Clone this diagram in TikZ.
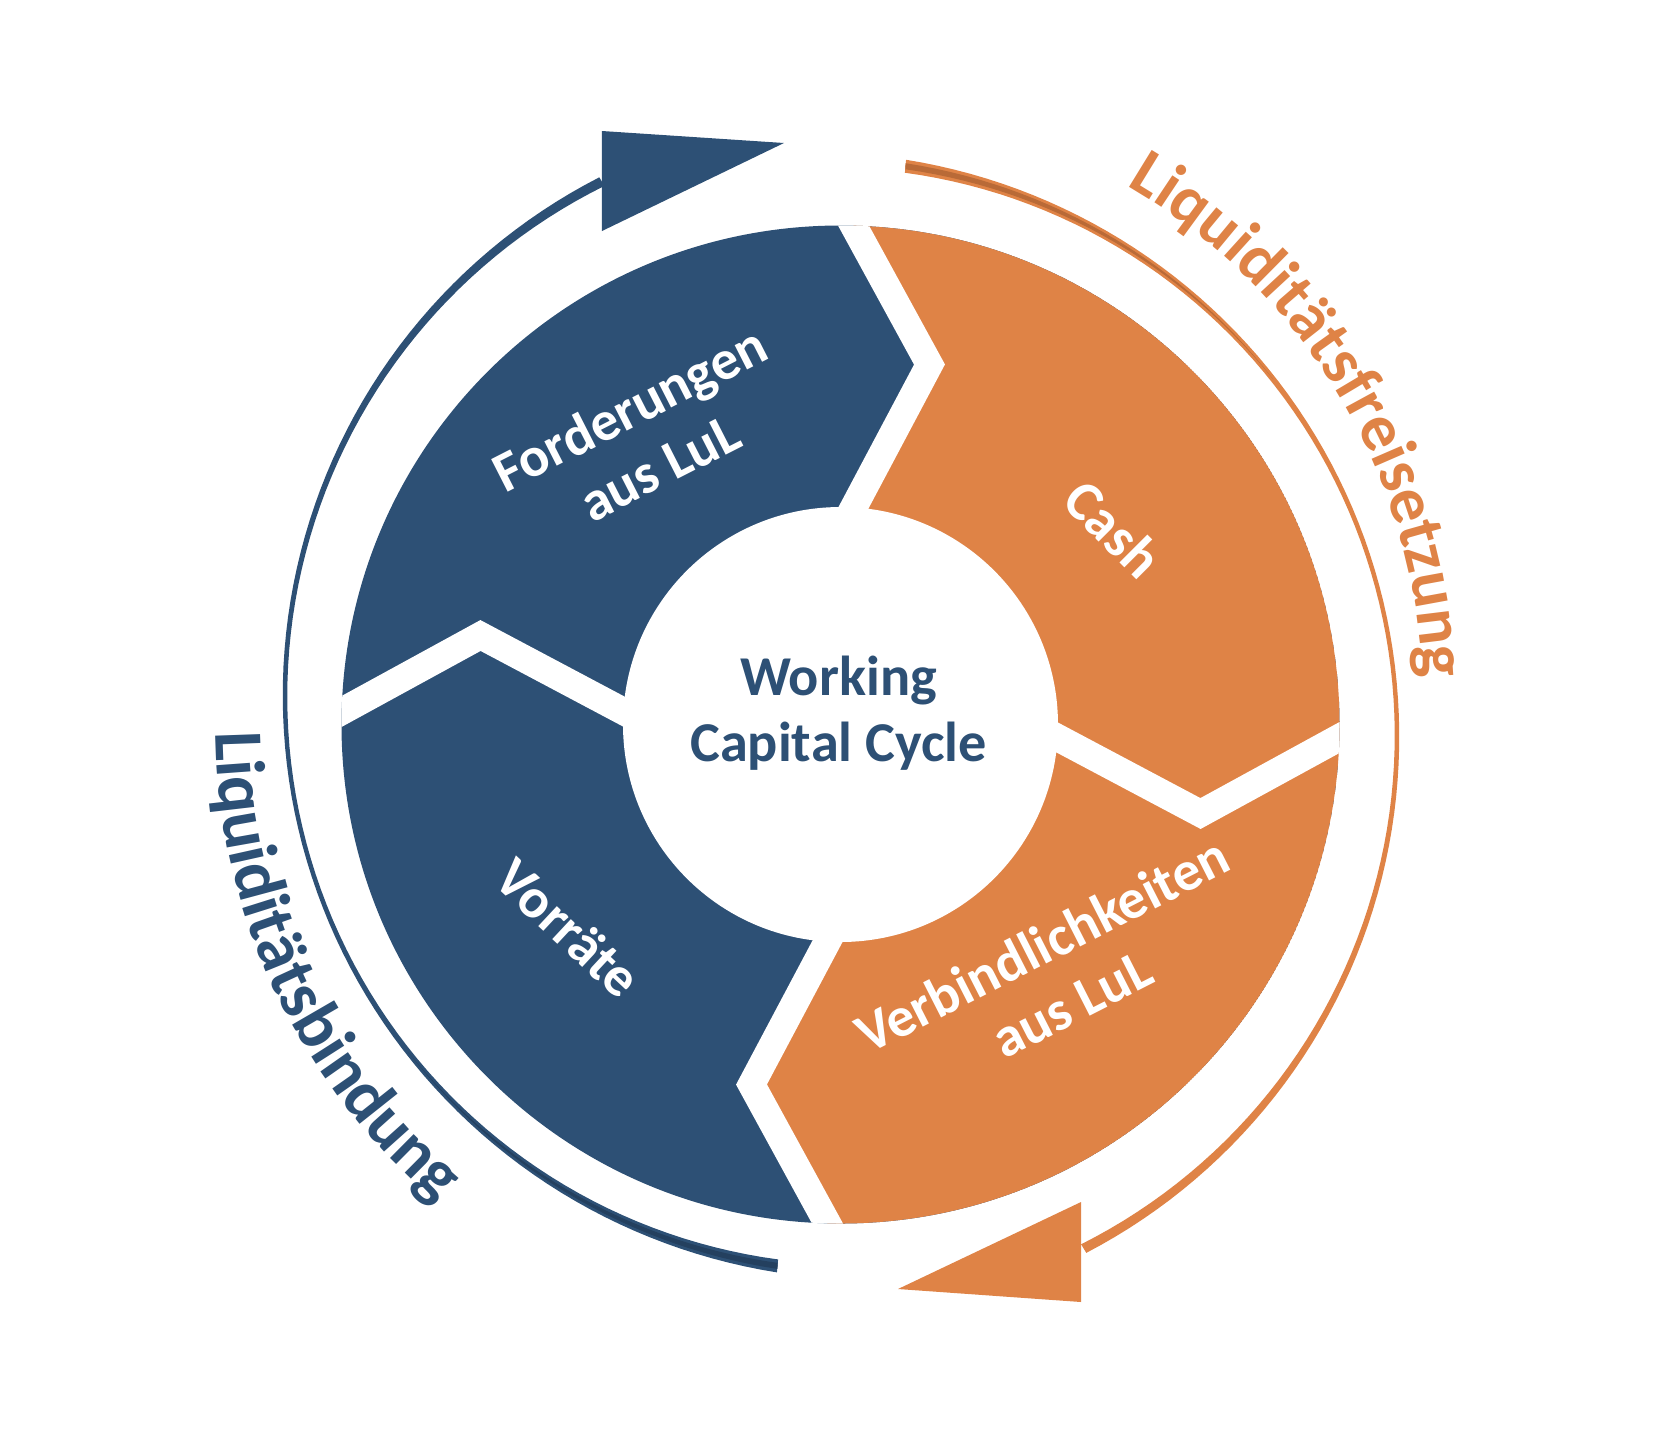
\documentclass[tikz,border=0pt]{standalone}
\usepackage{fontspec}
\setmainfont{Carlito}
\usepackage{tikz}
\usetikzlibrary{decorations.text}

\definecolor{cblue}{HTML}{2D5075}
\definecolor{cbluedark}{HTML}{24405F}
\definecolor{corange}{HTML}{DF8346}
\definecolor{corangedark}{HTML}{B96A37}

\newcommand{\labelfont}{\bfseries\fontsize{16}{18.8}\selectfont}
\newcommand{\curvefont}{\fontsize{19}{22}\selectfont\bfseries}
\newcommand{\curvefontb}{\fontsize{19.7}{22}\selectfont\bfseries}

\tikzset{
    gapband/.style={draw=white, line width=2.72mm, line join=miter},
    seglabel/.style={text=white, font=\labelfont, align=center},
    declare function={rw(\s)=2.2+(4.3-1.5*\s)*(1-2*\s)^2; cw(\s)=3*(1-\s/0.3);}
}

\begin{document}
\begin{tikzpicture}[x=0.01cm, y=0.01cm]
    \useasboundingbox (-840.5,724.5) rectangle (829.5,-722.5);

    % ring segments
    \begin{scope}
        \clip (0,0) circle[radius=499];
        \fill[cblue] (0,0) circle[radius=499];
        \fill[corange] (-15,164) -- (89,360) -- (-16,552) -- (700,700)
            -- (700,-700) -- (16,-552) -- (-89,-360) -- (15,-164) -- cycle;
        \draw[gapband] (-15,164) -- (89,360) -- (-16,552);
        \draw[gapband, rotate=90] (-15,164) -- (89,360) -- (-16,552);
        \draw[gapband, rotate=180] (-15,164) -- (89,360) -- (-16,552);
        \draw[gapband, rotate=270] (-15,164) -- (89,360) -- (-16,552);
    \end{scope}
    \fill[white] (0,0) circle[radius=217.5];

    \node[seglabel, rotate=27] (forderungen) at (-196,287) {Forderungen\\aus LuL};
    \node[seglabel, rotate=-45] (cash) at (273,195.5) {Cash};
    \node[seglabel, rotate=27] (verbindlichkeiten) at (216.5,-249.5) {Verbindlichkeiten\\aus LuL};
    \node[seglabel, rotate=-43] (vorraete) at (-272.5,-203.5) {Vorräte};
    \node[text=cblue, font=\labelfont, align=center] (wcc) at (-2,11) {Working\\Capital Cycle};

    % outer arrows
    \fill[cblue] plot[domain=0:1, samples=90] ({20.5+(576+rw(\x))*cos(261.7-145*\x)}, {28.5+(576+rw(\x))*sin(261.7-145*\x)})
        -- plot[domain=1:0, samples=90] ({20.5+(576-rw(\x))*cos(261.7-145*\x)}, {28.5+(576-rw(\x))*sin(261.7-145*\x)}) -- cycle;
    \fill[cbluedark] plot[domain=0:0.3, samples=30] ({20.5+(576+cw(\x))*cos(261.7-145*\x)}, {28.5+(576+cw(\x))*sin(261.7-145*\x)})
        -- plot[domain=0.3:0, samples=30] ({20.5+(576-cw(\x))*cos(261.7-145*\x)}, {28.5+(576-cw(\x))*sin(261.7-145*\x)}) -- cycle;
    \fill[cblue] (-238.5,593.5) -- (-238.5,493.5) -- (-56.5,581.5) -- cycle;

    \fill[corange] plot[domain=0:1, samples=90] ({-19.5+(576+rw(\x))*cos(81.6-144.5*\x)}, {-11.5+(576+rw(\x))*sin(81.6-144.5*\x)})
        -- plot[domain=1:0, samples=90] ({-19.5+(576-rw(\x))*cos(81.6-144.5*\x)}, {-11.5+(576-rw(\x))*sin(81.6-144.5*\x)}) -- cycle;
    \fill[corangedark] plot[domain=0:0.3, samples=30] ({-19.5+(576+cw(\x))*cos(81.6-144.5*\x)}, {-11.5+(576+cw(\x))*sin(81.6-144.5*\x)})
        -- plot[domain=0.3:0, samples=30] ({-19.5+(576-cw(\x))*cos(81.6-144.5*\x)}, {-11.5+(576-cw(\x))*sin(81.6-144.5*\x)}) -- cycle;
    \fill[corange] (240.5,-477.5) -- (240.5,-577.5) -- (57.5,-564.5) -- cycle;

    % curved labels
    {\curvefont
    \path[decorate, decoration={text along path, text color=corange,
        text={|\curvefont|Liquiditätsfreisetzung}}] (-13.4,23.8) ++(59.8:596) arc[start angle=59.8, end angle=-15, radius=596];}
    {\curvefontb
    \path[decorate, decoration={text along path, text color=cblue,
        text={|\curvefontb|Liquiditätsbindung}}] (180.7:625) arc[start angle=180.7, end angle=250, radius=625];}
\end{tikzpicture}
\end{document}
